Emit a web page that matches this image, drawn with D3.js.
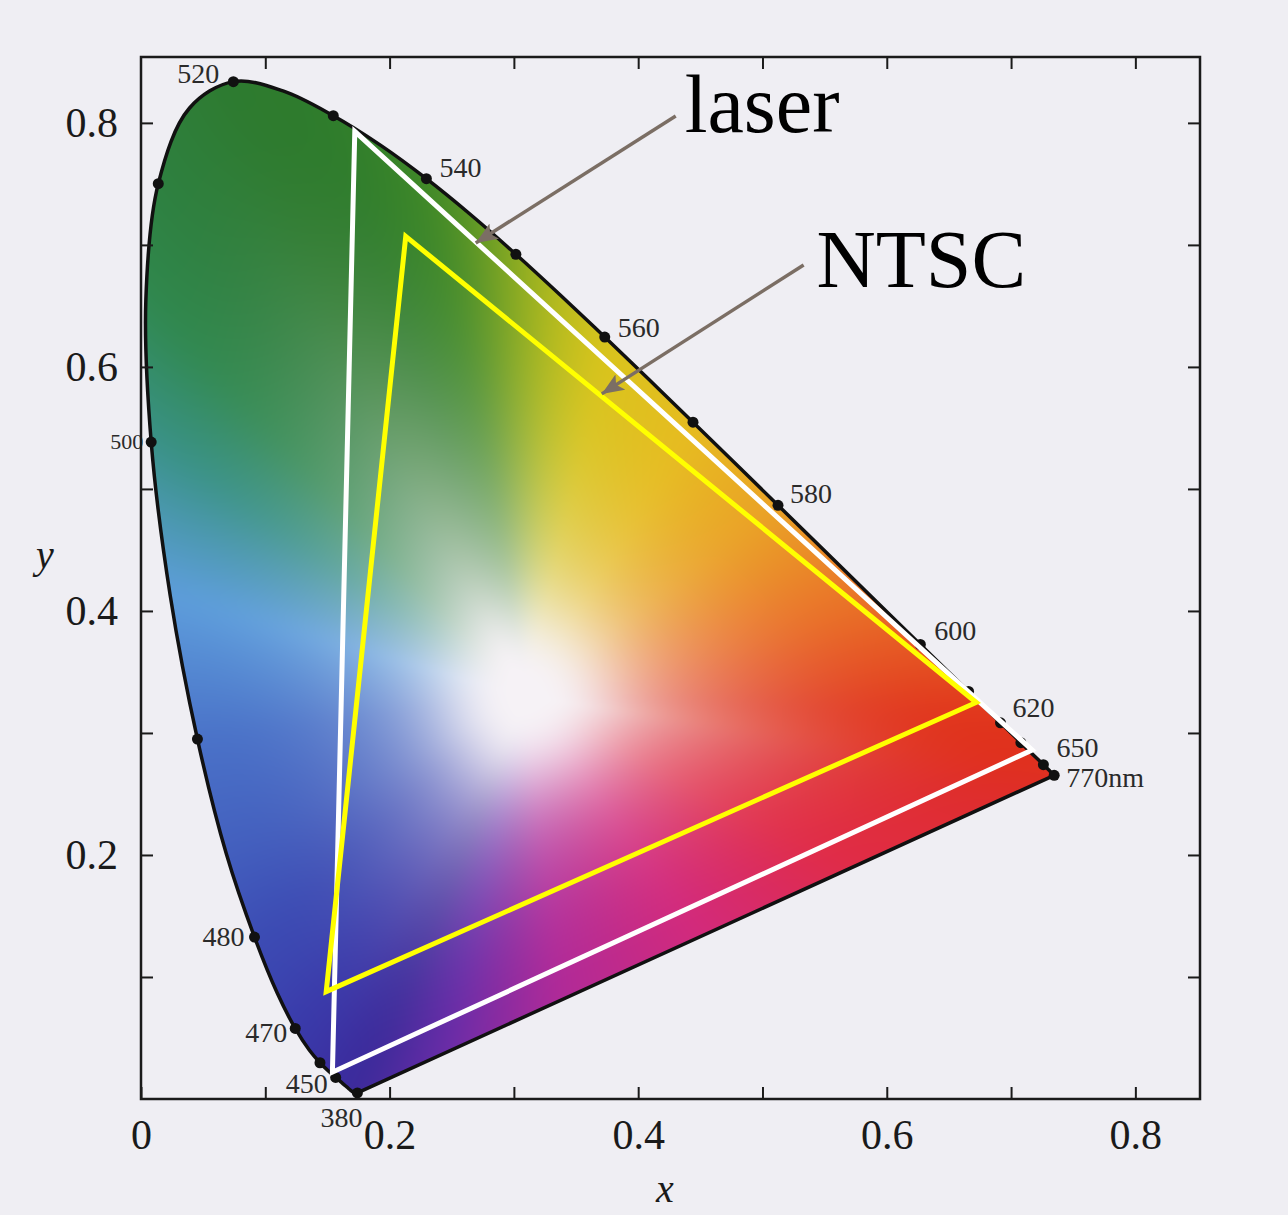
<!DOCTYPE html>
<html>
<head>
<meta charset="utf-8">
<script src="https://cdn.jsdelivr.net/npm/d3@7"></script>
<style>
  html, body { margin: 0; padding: 0; background: #efeef3; }
  svg { display: block; }
</style>
</head>
<body>
<svg id="chart" width="1288" height="1215"></svg>
<script>
// ---------------------------------------------------------------------------
// CIE 1931 2° spectral locus: wavelength (nm) and chromaticity x, y
// ---------------------------------------------------------------------------
const wavelengths = [380,385,390,395,400,405,410,415,420,425,430,435,440,445,450,455,460,465,470,475,
  480,485,490,495,500,505,510,515,520,525,530,535,540,545,550,555,560,565,570,575,580,585,590,595,
  600,605,610,615,620,625,630,635,640,645,650,655,660,665,670,675,680,685,690,695,700,770];
const locusX = [0.1741,0.1740,0.1738,0.1736,0.1733,0.1730,0.1726,0.1721,0.1714,0.1703,0.1689,0.1669,
  0.1644,0.1611,0.1566,0.1510,0.1440,0.1355,0.1241,0.1096,0.0913,0.0687,0.0454,0.0235,0.0082,0.0039,
  0.0139,0.0389,0.0743,0.1142,0.1547,0.1929,0.2296,0.2658,0.3016,0.3373,0.3731,0.4087,0.4441,0.4788,
  0.5125,0.5448,0.5752,0.6029,0.6270,0.6482,0.6658,0.6801,0.6915,0.7006,0.7079,0.7140,0.7190,0.7230,
  0.7260,0.7283,0.7300,0.7311,0.7320,0.7327,0.7334,0.7340,0.7344,0.7346,0.7347,0.7347];
const locusY = [0.0050,0.0050,0.0049,0.0049,0.0048,0.0048,0.0048,0.0048,0.0051,0.0058,0.0069,0.0086,
  0.0109,0.0138,0.0177,0.0227,0.0297,0.0399,0.0578,0.0868,0.1327,0.2007,0.2950,0.4127,0.5384,0.6548,
  0.7502,0.8120,0.8338,0.8262,0.8059,0.7816,0.7543,0.7243,0.6923,0.6589,0.6245,0.5896,0.5547,0.5202,
  0.4866,0.4544,0.4242,0.3965,0.3725,0.3514,0.3340,0.3197,0.3083,0.2993,0.2920,0.2859,0.2809,0.2770,
  0.2740,0.2717,0.2700,0.2689,0.2680,0.2673,0.2666,0.2660,0.2656,0.2654,0.2653,0.2653];

// Wavelengths marked with a dot on the locus, and the ones that carry a label
const markedNm = [380,450,460,470,480,490,500,510,520,530,540,550,560,570,580,600,610,620,630,650,770];
const labeledNm = [380,450,470,480,500,520,540,560,580,600,620,650,770];
const labelText = ["380","450","470","480","500","520","540","560","580","600","620","650","770nm"];

// Gamut triangles: green, red, blue primaries
const laserX = [0.172, 0.717, 0.154];
const laserY = [0.793, 0.286, 0.022];
const ntscX  = [0.213, 0.672, 0.149];
const ntscY  = [0.707, 0.325, 0.088];

// Axis ticks and labels
const xTicks = [0, 0.1, 0.2, 0.3, 0.4, 0.5, 0.6, 0.7, 0.8];
const xTickLabels = ["0", "", "0.2", "", "0.4", "", "0.6", "", "0.8"];
const yTicks = [0.1, 0.2, 0.3, 0.4, 0.5, 0.6, 0.7, 0.8];
const yTickLabels = ["", "0.2", "", "0.4", "", "0.6", "", "0.8"];

// Neutral point at the centre of the colour field
const whiteX = 0.31, whiteY = 0.33;

// ---------------------------------------------------------------------------
// Palette for the colour field: hue along the spectral locus and purple line
// ---------------------------------------------------------------------------
const edgeStopNm = [380, 450, 470, 480, 490, 495, 500, 505, 510, 520, 530, 540, 545, 550, 555, 560, 570, 580, 590, 600, 610, 620, 770];
const edgeStopColor = ["#3a2a98", "#3b2c9e", "#3a3aaa", "#3c4cb4", "#4a72c8", "#5e9edc", "#3a9288", "#30884e",
  "#2e8040", "#2d7a2e", "#2e7c2c", "#3e8828", "#5c9626", "#8aab22", "#b8bc1e", "#d8c41c", "#e6bc20", "#eaa226",
  "#ea7a28", "#e65824", "#e2401e", "#e0321c", "#df2e1e"];
const purpleStopU = [0, 0.29, 0.51, 0.71, 0.87, 1];
const purpleStopColor = ["#df2e22", "#e02c48", "#d22a7c", "#b02a98", "#6a2ca8", "#3a2a98"];
const centreColor = "#f6f2f6";

// ---------------------------------------------------------------------------
const svg = d3.select("#chart");
const defs = svg.append("defs");
const sx = d3.scaleLinear().domain([0, 0.852]).range([141, 1200]);
const sy = d3.scaleLinear().domain([0, 0.854]).range([1099, 57]);
const [fx0, fx1] = sx.range();
const [fy1, fy0] = sy.range();

const edgeColor = d3.scaleLinear().domain(edgeStopNm).range(edgeStopColor).interpolate(d3.interpolateRgb);
const purpleColor = d3.scaleLinear().domain(purpleStopU).range(purpleStopColor).interpolate(d3.interpolateRgb);

const locus = wavelengths.map((w, i) => ({ nm: w, x: locusX[i], y: locusY[i] }));

// locus outline: smooth spectral curve closed by the straight purple line
const curvePts = locus.filter((d, i) => i === 0 || d.x !== locus[i - 1].x || d.y !== locus[i - 1].y);
const locusPath = d3.line().x(d => sx(d.x)).y(d => sy(d.y)).curve(d3.curveCatmullRom)(curvePts) + "Z";
defs.append("clipPath").attr("id", "locusClip").append("path").attr("d", locusPath);

// ---- colour field rendered on a canvas ------------------------------------
(function drawField() {
  // boundary polygon in pixel space, each vertex carrying its edge colour
  const verts = locus.map(d => ({ px: sx(d.x), py: sy(d.y), c: d3.rgb(edgeColor(d.nm)) }));
  const a = verts[verts.length - 1], b = verts[0];
  const nPurple = 48;
  for (let k = 1; k < nPurple; k++) {
    const u = k / nPurple;
    verts.push({ px: a.px + (b.px - a.px) * u, py: a.py + (b.py - a.py) * u, c: d3.rgb(purpleColor(u)) });
  }
  const wx = sx(whiteX), wy = sy(whiteY);
  const NB = 4096;
  let R = new Float32Array(NB);
  let CR = new Float32Array(NB), CG = new Float32Array(NB), CB = new Float32Array(NB);
  const n = verts.length;
  for (let bi = 0; bi < NB; bi++) {
    const ang = -Math.PI + (bi / NB) * 2 * Math.PI;
    const dx = Math.cos(ang), dy = Math.sin(ang);
    let best = Infinity, col = null;
    for (let i = 0; i < n; i++) {
      const p = verts[i], q = verts[(i + 1) % n];
      const rx = q.px - p.px, ry = q.py - p.py;
      const den = dx * ry - dy * rx;
      if (Math.abs(den) < 1e-9) continue;
      const ex = p.px - wx, ey = p.py - wy;
      const t = (ex * ry - ey * rx) / den;
      const s = (ex * dy - ey * dx) / den;
      if (t > 0 && s >= 0 && s <= 1 && t < best) {
        best = t;
        col = [p.c.r + (q.c.r - p.c.r) * s, p.c.g + (q.c.g - p.c.g) * s, p.c.b + (q.c.b - p.c.b) * s];
      }
    }
    R[bi] = best; CR[bi] = col[0]; CG[bi] = col[1]; CB[bi] = col[2];
  }
  // soften hue transitions and boundary corners around the neutral point
  function blur(arr, rad) {
    const out = new Float32Array(NB);
    let sum = 0;
    for (let k = -rad; k <= rad; k++) sum += arr[(k + NB) % NB];
    for (let i = 0; i < NB; i++) {
      out[i] = sum / (2 * rad + 1);
      sum += arr[(i + rad + 1) % NB] - arr[(i - rad + NB) % NB];
    }
    return out;
  }
  for (let pass = 0; pass < 2; pass++) {
    CR = blur(CR, 28); CG = blur(CG, 28); CB = blur(CB, 28);
    R = blur(R, 36);
  }

  const cw = Math.round(fx1 - fx0), ch = Math.round(fy1 - fy0);
  const canvas = document.createElement("canvas");
  canvas.width = cw; canvas.height = ch;
  const ctx = canvas.getContext("2d");
  const img = ctx.createImageData(cw, ch);
  const white = d3.rgb(centreColor);
  for (let j = 0; j < ch; j++) {
    for (let i = 0; i < cw; i++) {
      const dx = fx0 + i + 0.5 - wx, dy = fy0 + j + 0.5 - wy;
      const r = Math.hypot(dx, dy);
      const fb = (Math.atan2(dy, dx) + Math.PI) / (2 * Math.PI) * NB;
      const b0 = Math.floor(fb) % NB, b1 = (b0 + 1) % NB, w = fb - Math.floor(fb);
      const Rb = R[b0] * (1 - w) + R[b1] * w;
      const t = Math.min(1, r / Rb);
      const s = Math.max(0, (t - 0.04) / 0.96);
      // saturation grows towards the locus; a round neutral core near the white point
      const f = (1 - Math.pow(1 - s, 2.3)) * (1 - Math.exp(-Math.pow(r / 75, 2)));
      const cr = CR[b0] * (1 - w) + CR[b1] * w;
      const cg = CG[b0] * (1 - w) + CG[b1] * w;
      const cb = CB[b0] * (1 - w) + CB[b1] * w;
      const o = (j * cw + i) * 4;
      img.data[o]     = white.r + (cr - white.r) * f;
      img.data[o + 1] = white.g + (cg - white.g) * f;
      img.data[o + 2] = white.b + (cb - white.b) * f;
      img.data[o + 3] = 255;
    }
  }
  ctx.putImageData(img, 0, 0);

  svg.append("image")
    .attr("href", canvas.toDataURL())
    .attr("x", fx0).attr("y", fy0).attr("width", cw).attr("height", ch)
    .attr("preserveAspectRatio", "none")
    .attr("clip-path", "url(#locusClip)");
})();

svg.append("path").attr("d", locusPath)
  .attr("fill", "none").attr("stroke", "#111").attr("stroke-width", 3.5).attr("stroke-linejoin", "round");

// ---- wavelength dots -------------------------------------------------------
const byNm = new Map(locus.map(d => [d.nm, d]));
svg.append("g").selectAll("circle").data(markedNm).join("circle")
  .attr("cx", d => sx(byNm.get(d).x)).attr("cy", d => sy(byNm.get(d).y))
  .attr("r", 5.5).attr("fill", "#111");

// ---- gamut triangles ------------------------------------------------------
const tri = d3.line().x(d => sx(d[0])).y(d => sy(d[1])).curve(d3.curveLinearClosed);
svg.append("path").attr("d", tri(laserX.map((v, i) => [v, laserY[i]])))
  .attr("fill", "none").attr("stroke", "#ffffff").attr("stroke-width", 5).attr("stroke-linejoin", "miter");
svg.append("path").attr("d", tri(ntscX.map((v, i) => [v, ntscY[i]])))
  .attr("fill", "none").attr("stroke", "#ffff00").attr("stroke-width", 5).attr("stroke-linejoin", "miter");

// ---- wavelength labels (offsets relative to each dot, in px) -------------
const labelLayout = {
  380: ["middle", -16, 34], 450: ["end", -8, 16], 470: ["end", -8, 14], 480: ["end", -10, 9],
  500: ["end", -8, 7], 520: ["end", -14, 1], 540: ["start", 13, -2], 560: ["start", 13, 0],
  580: ["start", 12, -2], 600: ["start", 14, -4], 620: ["start", 12, -6], 650: ["start", 13, -8],
  770: ["start", 12, 12]
};
svg.append("g").selectAll("text").data(labeledNm).join("text")
  .attr("x", d => sx(byNm.get(d).x) + labelLayout[d][1])
  .attr("y", d => sy(byNm.get(d).y) + labelLayout[d][2])
  .attr("text-anchor", d => labelLayout[d][0])
  .attr("font-family", "'Liberation Serif', 'DejaVu Serif', serif")
  .attr("font-size", d => d === 500 ? 22 : 28)
  .attr("fill", "#2a2a2a")
  .text((d, i) => labelText[i]);

// ---- axes: ticks point inward on all four sides -------------------------
const tickFont = "'Liberation Serif', 'DejaVu Serif', serif";
function styleAxis(g) {
  g.select(".domain").remove();
  g.selectAll(".tick line").attr("stroke", "#1a1a1a").attr("stroke-width", 2);
  g.selectAll(".tick text").attr("font-family", tickFont).attr("font-size", 42).attr("fill", "#1a1a1a");
}
svg.append("g").attr("transform", `translate(0,${fy1})`)
  .call(d3.axisBottom(sx).tickValues(xTicks).tickSizeInner(-12).tickSizeOuter(0).tickPadding(20)
    .tickFormat((d, i) => xTickLabels[i]))
  .call(styleAxis);
svg.append("g").attr("transform", `translate(0,${fy0})`)
  .call(d3.axisTop(sx).tickValues(xTicks.slice(1)).tickSizeInner(-12).tickSizeOuter(0).tickFormat(""))
  .call(styleAxis);
svg.append("g").attr("transform", `translate(${fx0},0)`)
  .call(d3.axisLeft(sy).tickValues(yTicks).tickSizeInner(-12).tickSizeOuter(0).tickPadding(23)
    .tickFormat((d, i) => yTickLabels[i]))
  .call(styleAxis);
svg.append("g").attr("transform", `translate(${fx1},0)`)
  .call(d3.axisRight(sy).tickValues(yTicks).tickSizeInner(-12).tickSizeOuter(0).tickFormat(""))
  .call(styleAxis);

svg.append("rect")
  .attr("x", fx0).attr("y", fy0).attr("width", fx1 - fx0).attr("height", fy1 - fy0)
  .attr("fill", "none").attr("stroke", "#1a1a1a").attr("stroke-width", 2.5);

// axis titles
svg.append("text").attr("x", 665).attr("y", 1202).attr("text-anchor", "middle")
  .attr("font-family", tickFont).attr("font-style", "italic").attr("font-size", 40).attr("fill", "#1a1a1a").text("x");
svg.append("text").attr("x", 45).attr("y", 568).attr("text-anchor", "middle")
  .attr("font-family", tickFont).attr("font-style", "italic").attr("font-size", 40).attr("fill", "#1a1a1a").text("y");

// ---- callouts -------------------------------------------------------------
const calloutNames = ["laser", "NTSC"];
const calloutTip = [[0.2693, 0.7016], [0.3707, 0.5779]];
const calloutTail = [[0.4302, 0.8057], [0.5331, 0.6836]];
const calloutText = [[0.4374, 0.7926], [0.5435, 0.6656]];

defs.append("marker")
  .attr("id", "arrow").attr("markerUnits", "userSpaceOnUse")
  .attr("markerWidth", 24).attr("markerHeight", 18).attr("refX", 22).attr("refY", 9)
  .attr("orient", "auto")
  .append("path").attr("d", "M0,0 L22,9 L0,18 L5,9 Z").attr("fill", "#7b6e64");

calloutNames.forEach((name, i) => {
  svg.append("line")
    .attr("x1", sx(calloutTail[i][0])).attr("y1", sy(calloutTail[i][1]))
    .attr("x2", sx(calloutTip[i][0])).attr("y2", sy(calloutTip[i][1]))
    .attr("stroke", "#7b6e64").attr("stroke-width", 3.5).attr("marker-end", "url(#arrow)");
  svg.append("text")
    .attr("x", sx(calloutText[i][0])).attr("y", sy(calloutText[i][1]))
    .attr("font-family", "'Liberation Serif', serif").attr("font-size", 82).attr("fill", "#000")
    .text(name);
});
</script>
</body>
</html>
